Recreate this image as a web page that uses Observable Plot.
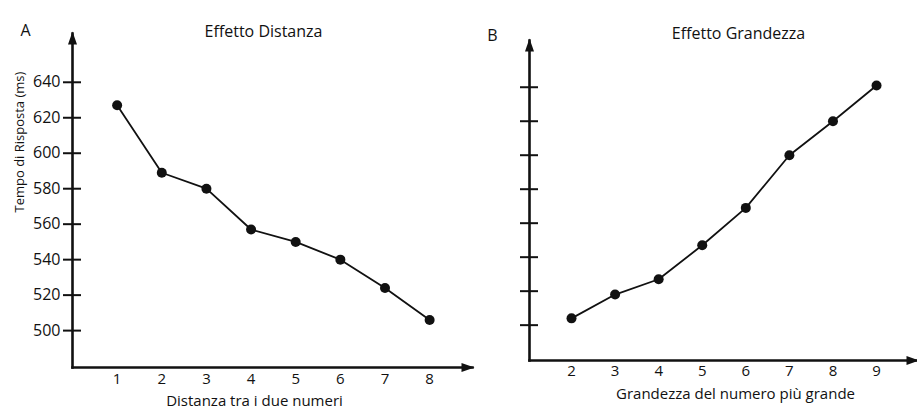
<!DOCTYPE html>
<html>
<head>
<meta charset="utf-8">
<script src="https://cdn.jsdelivr.net/npm/d3@7"></script>
<script src="https://cdn.jsdelivr.net/npm/@observablehq/plot@0.6"></script>
<style>
  html, body { margin: 0; padding: 0; background: #fff; }
  #chart { position: relative; width: 917px; height: 410px; }
  #chart svg { position: absolute; left: 0; top: 0; }
</style>
</head>
<body>
<div id="chart"></div>
<script>
// ---- Data ----
const distanza = [1, 2, 3, 4, 5, 6, 7, 8];
const tempoDistanza = [627, 589, 580, 557, 550, 540, 524, 506];
const grandezza = [2, 3, 4, 5, 6, 7, 8, 9];
const tempoGrandezza = [504, 518, 527, 547, 569, 600, 620, 641];
const yTicks = [500, 520, 540, 560, 580, 600, 620, 640];
const xTicksA = [1, 2, 3, 4, 5, 6, 7, 8];
const xTicksB = [2, 3, 4, 5, 6, 7, 8, 9];
const titleA = "Effetto Distanza";
const titleB = "Effetto Grandezza";
const xLabelA = "Distanza tra i due numeri";
const xLabelB = "Grandezza del numero più grande";
const yLabel = "Tempo di Risposta (ms)";

const dataA = distanza.map((d, i) => ({x: d, y: tempoDistanza[i]}));
const dataB = grandezza.map((d, i) => ({x: d, y: tempoGrandezza[i]}));

// narrow filled arrowhead, tip at origin, pointing up
const arrowHead = {
  draw(ctx) {
    ctx.moveTo(0, 0);
    ctx.lineTo(4.5, 13);
    ctx.lineTo(-4.5, 13);
    ctx.closePath();
  }
};

const ink = "#111";
const font = "'Open Sans', sans-serif";

function panel({data, xDomain, xTicks, ml, mr, mt, mb, showYLabels, letter, title, xLabel, pos}) {
  const marks = [
    Plot.frame({anchor: "left", stroke: ink, strokeWidth: 2.6}),
    Plot.frame({anchor: "bottom", stroke: ink, strokeWidth: 2.6}),
    Plot.dot([0], {frameAnchor: "top-left", symbol: arrowHead, fill: ink, stroke: "none", dy: -2}),
    Plot.dot([0], {frameAnchor: "bottom-right", symbol: arrowHead, fill: ink, stroke: "none", rotate: 90, dx: 2}),
    Plot.axisY({ticks: yTicks, tickSize: pos.tick, tickPadding: 3, stroke: ink, strokeWidth: 2, fill: showYLabels ? ink : "none", fontSize: 16, label: null, tickFormat: d => String(d)}),
    Plot.axisY({ticks: yTicks, tickSize: -pos.tick, stroke: ink, strokeWidth: 2, fill: "none", label: null}),
    Plot.axisX({ticks: xTicks, tickSize: 0, tickPadding: pos.xpad, fill: ink, fontSize: 15, label: null, tickFormat: d => String(d)}),
    Plot.line(data, {x: "x", y: "y", stroke: ink, strokeWidth: 1.8}),
    Plot.dot(data, {x: "x", y: "y", r: 5, fill: ink, stroke: "none"}),
    Plot.text([letter], {frameAnchor: "top-left", dx: pos.letterDx, dy: pos.letterDy, text: d => d, fontSize: 16, fill: ink, textAnchor: "middle"}),
    Plot.text([title], {frameAnchor: "top", dx: pos.titleDx, dy: pos.titleDy, text: d => d, fontSize: 16, fill: ink}),
    Plot.text([xLabel], {frameAnchor: "bottom", dx: pos.xlDx, dy: pos.xlDy, text: d => d, fontSize: 15, fill: ink})
  ];
  if (showYLabels) {
    marks.push(Plot.text([yLabel], {frameAnchor: "left", dx: -53, dy: 12, rotate: -90, text: d => d, fontSize: 13, fill: ink}));
  }
  return Plot.plot({
    width: 917,
    height: 410,
    marginLeft: ml,
    marginRight: mr,
    marginTop: mt,
    marginBottom: mb,
    x: {domain: xDomain},
    y: {domain: [479.2, 667.5]},
    style: {fontFamily: font, background: "transparent", overflow: "visible", color: ink},
    marks
  });
}

const chart = document.getElementById("chart");
chart.appendChild(panel({
  data: dataA, xDomain: [0, 8.96], xTicks: xTicksA,
  ml: 72, mr: 917 - 472, mt: 33, mb: 410 - 367,
  showYLabels: true, letter: "A", title: titleA, xLabel: xLabelA,
  pos: {tick: 9, xpad: 6, letterDx: -47, letterDy: -9, titleDx: -9, titleDy: -8, xlDx: -18, xlDy: 38}
}));
chart.appendChild(panel({
  data: dataB, xDomain: [1.036, 9.94], xTicks: xTicksB,
  ml: 529, mr: 0, mt: 40, mb: 410 - 360,
  showYLabels: false, letter: "B", title: titleB, xLabel: xLabelB,
  pos: {tick: 9, xpad: 5, letterDx: -37, letterDy: -11, titleDx: 15, titleDy: -13, xlDx: 12, xlDy: 38}
}));
</script>
</body>
</html>
